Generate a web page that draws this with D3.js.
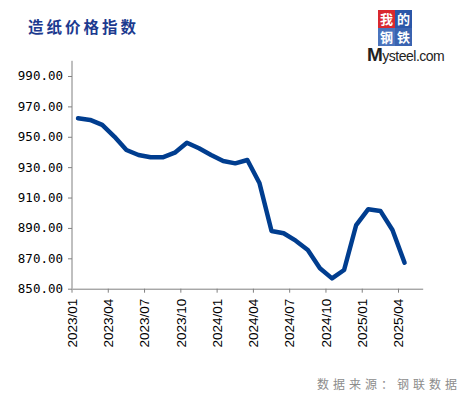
<!DOCTYPE html>
<html lang="zh-cn">
<head>
<meta charset="utf-8">
<title>造纸价格指数</title>
<script src="https://d3js.org/d3.v7.min.js"></script>
<style>
  body { margin: 0; background: #fff; }
</style>
</head>
<body>
<script>
// 月份 2023/01 - 2025/05（最后一个月无数据）
var months = [];
for (var yr = 2023; yr <= 2025; yr++) {
  for (var mo = 1; mo <= 12; mo++) {
    if (yr == 2025 && mo > 5) break;
    months.push(yr + "/" + (mo < 10 ? "0" + mo : mo));
  }
}
var values = [962.2, 961.1, 957.8, 950.1, 941.3, 938.0, 936.5, 936.5, 939.5, 946.1,
              942.4, 938.0, 934.0, 932.5, 934.7, 919.6, 888.0, 886.5, 881.6, 875.5,
              863.4, 856.8, 862.3, 891.9, 902.3, 901.2, 888.6, 867.1];
var yTicks = [850, 870, 890, 910, 930, 950, 970, 990];
var tickMonths = months.filter(function(d, i){ return i % 3 == 0; });

var width = 463, height = 397;
var svg = d3.select("body").append("svg")
    .attr("width", width)
    .attr("height", height);

var pLeft = 72, pRight = 422.7, pTop = 60.8, pBottom = 288.7;

var x = d3.scaleBand().domain(months).range([pLeft, pRight]);
var yScale = d3.scaleLinear().domain([850, 1000]).range([pBottom, pTop]);

// 标题
svg.append("text")
    .attr("x", 28).attr("y", 33)
    .attr("font-family", "Noto Sans CJK SC")
    .attr("font-weight", "bold")
    .attr("font-size", 15.5)
    .attr("letter-spacing", 3)
    .attr("fill", "#1c3a8f")
    .text("造纸价格指数");

// y轴
var yAxis = svg.append("g")
    .attr("transform", "translate(" + pLeft + ",0)")
    .call(d3.axisLeft(yScale).tickValues(yTicks).tickSize(4).tickPadding(5)
      .tickFormat(d3.format(".2f")));
yAxis.select(".domain").attr("stroke", "#808080").attr("d", "M0," + pTop + "V" + pBottom);
yAxis.selectAll(".tick line").attr("stroke", "#808080");
yAxis.selectAll("text")
    .attr("font-family", "DejaVu Sans Mono, monospace")
    .attr("font-size", 12.5)
    .attr("fill", "#000");

// x轴
var xAxis = svg.append("g")
    .attr("transform", "translate(0," + pBottom + ")")
    .call(d3.axisBottom(x).tickValues(tickMonths).tickSize(4).tickSizeOuter(0));
xAxis.select(".domain").attr("stroke", "#808080");
xAxis.selectAll(".tick")
    .attr("transform", function(d){ return "translate(" + x(d) + ",0)"; });
xAxis.selectAll(".tick line").attr("stroke", "#808080");
xAxis.selectAll("text")
    .attr("font-family", "Liberation Sans, Arial")
    .attr("font-size", 13.5)
    .attr("fill", "#000")
    .attr("text-anchor", "end")
    .attr("dy", "0.35em")
    .attr("transform", "translate(0,10) rotate(-90)")
    .attr("x", 0).attr("y", 0);

// 折线
var line = d3.line()
    .x(function(d, i){ return x(months[i]) + x.bandwidth() / 2; })
    .y(function(d){ return yScale(d); });

svg.append("path")
    .datum(values)
    .attr("fill", "none")
    .attr("stroke", "#003d8f")
    .attr("stroke-width", 4.5)
    .attr("stroke-linejoin", "round")
    .attr("stroke-linecap", "round")
    .attr("d", line);

// 数据来源
svg.append("text")
    .attr("x", 317).attr("y", 389)
    .attr("font-family", "Noto Sans CJK SC")
    .attr("font-size", 12)
    .attr("letter-spacing", 4)
    .attr("fill", "#8c8c8c")
    .text("数据来源：钢联数据");

// logo
var logo = svg.append("g").attr("transform", "translate(378,10)");
var cells = [["我", 0, 0, "#d9282f"], ["的", 17, 0, "#2b56a8"], ["钢", 0, 18, "#4a74bd"], ["铁", 17, 18, "#3a63b0"]];
cells.forEach(function(c){
  logo.append("rect").attr("x", c[1]).attr("y", c[2]).attr("width", 17).attr("height", 18).attr("fill", c[3]);
  logo.append("text").attr("x", c[1] + 8.5).attr("y", c[2] + 14)
      .attr("text-anchor", "middle")
      .attr("font-family", "Noto Sans CJK SC")
      .attr("font-weight", "bold")
      .attr("font-size", 13)
      .attr("fill", "#fff")
      .text(c[0]);
});
svg.append("text")
    .attr("x", 367).attr("y", 61)
    .attr("font-family", "Liberation Sans, Arial")
    .attr("font-size", 14)
    .attr("letter-spacing", -0.5)
    .attr("fill", "#222")
    .html('<tspan font-size="19" font-weight="bold">M</tspan>ysteel.com');
</script>
</body>
</html>
